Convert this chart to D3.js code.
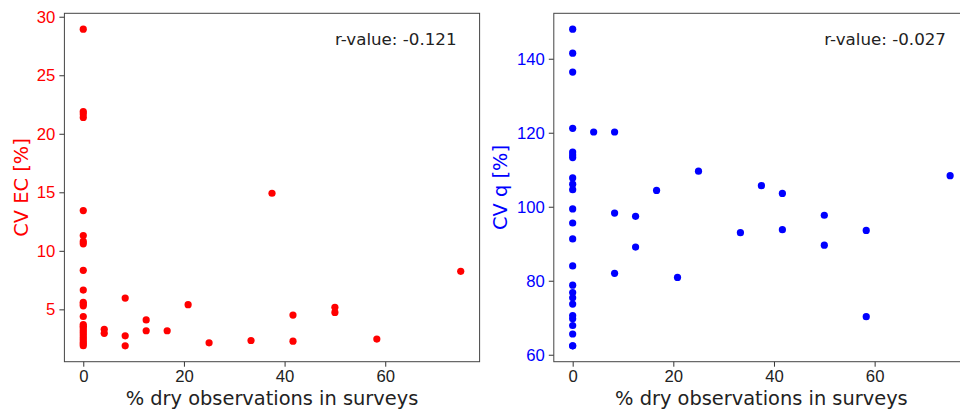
<!DOCTYPE html>
<html>
<head>
<meta charset="utf-8">
<script src="https://cdn.jsdelivr.net/npm/d3@7"></script>
<style>
  html, body { margin: 0; padding: 0; background: #fff; }
  svg { display: block; font-family: "DejaVu Sans", sans-serif; }
</style>
</head>
<body>
<svg id="chart" width="960" height="409"></svg>
<script>
// % of survey visits where the site was dry, and the matching CV of EC / discharge
const ecDry = [
  0, 0, 0, 0, 0, 0, 0, 0, 0, 0, 0, 0, 0, 0,
  0, 0, 0, 0, 0, 0, 0, 0, 0, 0, 0,
  4.17, 4.17, 8.33, 8.33, 8.33, 12.5, 12.5, 16.67, 20.83, 25, 33.33, 37.5,
  41.67, 41.67, 50, 50, 58.33, 75
];
const ecCV = [
  28.94, 21.9, 21.7, 21.4, 13.44, 11.3, 10.8, 10.6, 8.33, 6.65, 5.6, 5.45, 5.3, 4.39,
  3.7, 3.55, 3.4, 3.2, 3.0, 2.8, 2.6, 2.4, 2.2, 2.05, 1.9,
  3.3, 2.95, 5.96, 2.74, 1.88, 4.1, 3.17, 3.17, 5.4, 2.14, 2.34, 14.92,
  4.51, 2.28, 5.17, 4.74, 2.46, 8.25
];

const qDry = [
  0, 0, 0, 0, 0, 0, 0, 0, 0, 0, 0, 0,
  0, 0, 0, 0, 0, 0, 0, 0, 0, 0, 0, 0,
  4.17, 8.33, 8.33, 8.33, 12.5, 12.5, 16.67, 20.83, 25, 33.33, 37.5,
  41.67, 41.67, 50, 50, 58.33, 58.33, 75
];
const qCV = [
  148.0, 141.5, 136.4, 121.2, 114.8, 114.0, 113.3, 107.8, 106.1, 104.6, 99.4, 95.6,
  91.3, 84.0, 78.8, 76.8, 75.4, 73.7, 70.6, 69.7, 67.9, 65.6, 62.4, 62.4,
  120.2, 120.2, 98.3, 82.0, 97.4, 89.1, 104.4, 80.9, 109.6, 93.0, 105.7,
  103.6, 93.8, 97.7, 89.6, 93.6, 70.3, 108.4
];

const xTicks = [0, 20, 40, 60];
const ecTicks = [5, 10, 15, 20, 25, 30];
const qTicks = [60, 80, 100, 120, 140];

const panels = [
  { xs: ecDry, ys: ecCV, yTicks: ecTicks, yLabel: "CV EC [%]", rText: "r-value: -0.121",
    color: "#ff0000", left: 64.4, labelX: 28 },
  { xs: qDry, ys: qCV, yTicks: qTicks, yLabel: "CV q [%]", rText: "r-value: -0.027",
    color: "#0000ff", left: 553.8, labelX: 507 }
];

const svg = d3.select("#chart");
const plotTop = 13.3, plotH = 348.4, plotW = 415.2;
const tickFont = 16.7, labelFont = 19.4;

// padded extent, 5% on each side like matplotlib's default margins
function padded(vals) {
  const [lo, hi] = d3.extent(vals);
  const m = (hi - lo) * 0.05;
  return [lo - m, hi + m];
}

panels.forEach(p => {
  const g = svg.append("g").attr("transform", `translate(${p.left},${plotTop})`);
  const x = d3.scaleLinear().domain(padded(p.xs)).range([0, plotW]);
  const y = d3.scaleLinear().domain(padded(p.ys)).range([plotH, 0]);

  // points
  g.append("g").selectAll("circle")
    .data(p.xs.map((v, i) => [v, p.ys[i]]))
    .join("circle")
    .attr("cx", d => x(d[0]))
    .attr("cy", d => y(d[1]))
    .attr("r", 3.6)
    .attr("fill", p.color);

  // x axis
  const xa = g.append("g").attr("transform", `translate(0,${plotH})`)
    .call(d3.axisBottom(x).tickValues(xTicks).tickFormat(d3.format("d"))
      .tickSize(5).tickPadding(3).tickSizeOuter(0));
  xa.select(".domain").remove();
  xa.selectAll("line").attr("stroke", "#333");
  xa.selectAll("text").attr("fill", "#222").style("font-size", tickFont + "px");

  // y axis
  const ya = g.append("g")
    .call(d3.axisLeft(y).tickValues(p.yTicks).tickFormat(d3.format("d"))
      .tickSize(5).tickPadding(4).tickSizeOuter(0));
  ya.select(".domain").remove();
  ya.selectAll("line").attr("stroke", "#333");
  ya.selectAll("text").attr("fill", p.color).style("font-size", tickFont + "px");

  // frame
  g.append("rect")
    .attr("x", 0).attr("y", 0).attr("width", plotW).attr("height", plotH)
    .attr("fill", "none").attr("stroke", "#444").attr("stroke-width", 1);

  // axis titles
  g.append("text")
    .attr("x", plotW / 2).attr("y", plotH + 43.5)
    .attr("text-anchor", "middle")
    .attr("fill", "#222")
    .style("font-size", labelFont + "px")
    .text("% dry observations in surveys");

  g.append("text")
    .attr("transform", `translate(${p.labelX - p.left},${plotH / 2}) rotate(-90)`)
    .attr("text-anchor", "middle")
    .attr("fill", p.color)
    .style("font-size", labelFont + "px")
    .text(p.yLabel);

  // correlation note
  g.append("text")
    .attr("x", plotW - 23).attr("y", 32.2)
    .attr("text-anchor", "end")
    .attr("fill", "#222")
    .style("font-size", tickFont + "px")
    .text(p.rText);
});
</script>
</body>
</html>
